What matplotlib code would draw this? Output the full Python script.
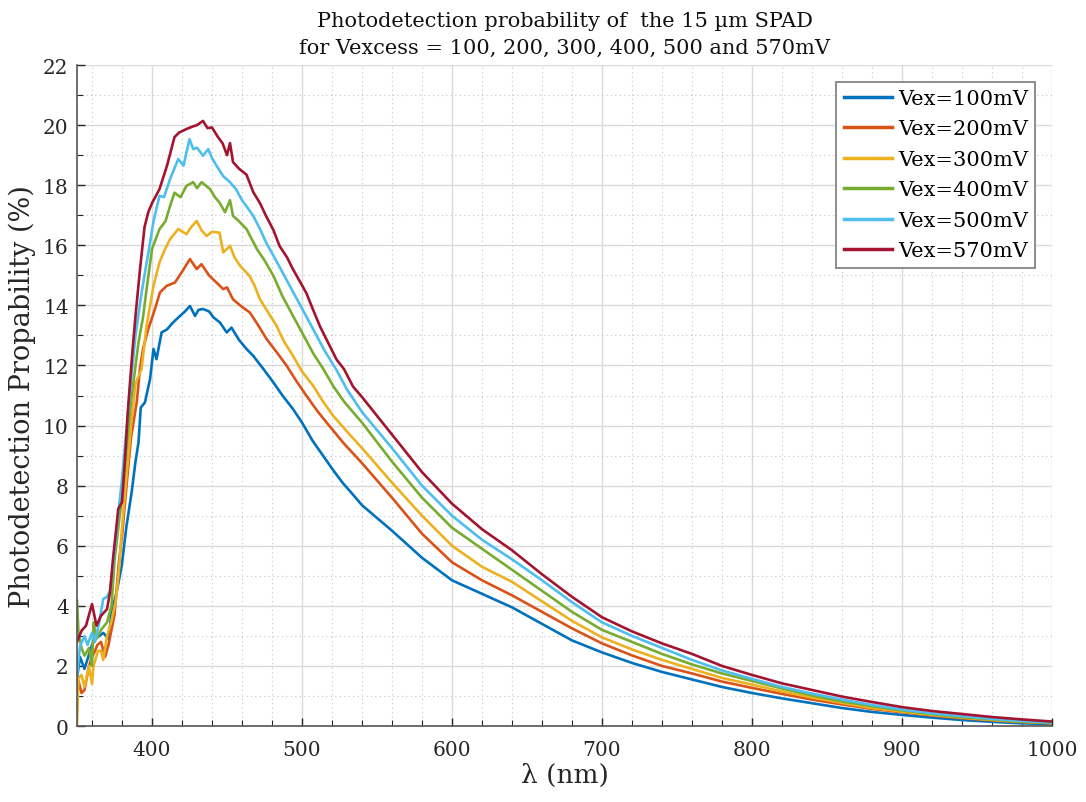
import matplotlib
matplotlib.use("Agg")
import matplotlib.pyplot as plt
from matplotlib.ticker import MultipleLocator

# ---------------- data ----------------
labels = ["Vex=100mV", "Vex=200mV", "Vex=300mV", "Vex=400mV", "Vex=500mV", "Vex=570mV"]
colors = ["#0072BD", "#D95319", "#EDB120", "#77AC30", "#4DBEEE", "#A2142F"]

tail_wl = [560, 580, 600, 620, 640, 660, 680, 700, 720, 740, 760, 780, 800,
           820, 840, 860, 880, 900, 920, 940, 960, 980, 1000]

wl_100 = [350, 352, 355, 358.7, 360, 362, 365, 367.5, 371, 373, 376.4, 379.8, 383, 386.4, 389, 391,
          392.5, 395.3, 398.7, 401, 403, 406.4, 410, 414, 418.7, 422, 425.3, 428.7, 431, 434, 438, 441,
          445.3, 449.8, 453, 458, 463, 467.5, 474, 481, 487, 494, 500, 507, 514, 521, 527, 534, 540]
pdp_100 = [1.6, 2.3, 1.9, 2.5, 2.7, 2.9, 3.0, 3.1, 2.9, 3.78, 4.45, 5.33, 6.66, 7.77, 8.8, 9.44,
           10.6, 10.77, 11.55, 12.55, 12.21, 13.1, 13.2, 13.43, 13.65, 13.8, 13.98, 13.65, 13.85, 13.88, 13.8, 13.6,
           13.43, 13.1, 13.26, 12.85, 12.55, 12.32, 11.9, 11.43, 11.0, 10.55, 10.1, 9.5, 9.0, 8.5, 8.1, 7.7, 7.35]
tail_100 = [6.5, 5.6, 4.85, 4.4, 3.95, 3.4, 2.85, 2.45, 2.1, 1.8, 1.55, 1.3, 1.1,
            0.92, 0.76, 0.6, 0.47, 0.37, 0.28, 0.2, 0.14, 0.09, 0.06]

wl_200 = [350, 351, 353, 355, 358, 360, 362, 363.6, 366, 368.7, 371, 375, 378, 380, 383, 386, 389.8,
          392, 394, 397.5, 402, 405.3, 409.8, 415.3, 419.8, 425.3, 429.8, 433, 438, 443, 447.5, 450,
          454, 460, 465.3, 470, 476.4, 483, 489.8, 496, 503, 510, 516.4, 528, 540]
pdp_200 = [0.8, 1.5, 1.1, 1.2, 2.0, 2.3, 2.5, 2.7, 2.8, 2.3, 2.7, 3.7, 5.5, 6.3, 8.0, 9.6, 10.77,
           11.9, 12.55, 13.21, 13.88, 14.43, 14.65, 14.76, 15.1, 15.54, 15.21, 15.37, 15.0, 14.76, 14.54, 14.6,
           14.2, 13.95, 13.76, 13.4, 12.88, 12.45, 11.99, 11.5, 10.99, 10.5, 10.1, 9.4, 8.75]
tail_200 = [7.6, 6.4, 5.45, 4.85, 4.35, 3.8, 3.25, 2.75, 2.35, 2.0, 1.75, 1.48, 1.27,
            1.07, 0.88, 0.72, 0.57, 0.46, 0.35, 0.26, 0.19, 0.13, 0.09]

wl_300 = [350, 351, 353, 355, 358, 360, 361, 364, 366, 367.5, 370, 373, 376, 378, 380, 383, 386, 389,
          393, 396.4, 401, 405, 408, 412, 417.5, 423, 426, 429.8, 433, 436.4, 440, 445, 447.5, 452, 455,
          458.7, 465, 468, 472, 477, 483, 488, 494, 500, 507.5, 514, 520.7, 530, 540]
pdp_300 = [0.0, 1.6, 1.7, 1.3, 2.0, 1.4, 2.0, 2.5, 2.5, 2.2, 3.0, 3.5, 4.2, 5.2, 6.6, 8.3, 10.0, 11.4,
           11.88, 13.32, 14.65, 15.43, 15.8, 16.2, 16.54, 16.37, 16.6, 16.81, 16.5, 16.31, 16.45, 16.42, 15.76, 15.98, 15.6,
           15.32, 14.98, 14.7, 14.2, 13.8, 13.32, 12.8, 12.32, 11.8, 11.32, 10.8, 10.33, 9.8, 9.25]
tail_300 = [8.1, 7.0, 6.0, 5.3, 4.8, 4.15, 3.5, 2.95, 2.55, 2.2, 1.9, 1.6, 1.38,
            1.15, 0.95, 0.77, 0.6, 0.48, 0.37, 0.28, 0.2, 0.14, 0.1]

wl_400 = [350, 351, 353, 355, 358, 360, 361, 363, 366, 370, 373, 375, 378, 380, 383, 386, 391, 394,
          396.4, 400, 405, 409, 412, 415, 419, 423, 427.5, 430, 433, 438.7, 442, 445, 448.7, 452, 454,
          458, 463, 470, 475, 481, 487, 494, 500, 507.5, 514, 521, 528, 536, 540]
pdp_400 = [4.17, 3.1, 2.6, 2.34, 2.6, 2.0, 3.45, 2.9, 3.2, 3.45, 4.0, 5.5, 6.8, 7.6, 9.2, 10.8, 12.77, 13.6,
           14.54, 15.87, 16.54, 16.8, 17.3, 17.75, 17.6, 17.98, 18.1, 17.9, 18.1, 17.87, 17.6, 17.42, 17.1, 17.5, 16.98,
           16.8, 16.54, 15.87, 15.5, 14.98, 14.3, 13.65, 13.1, 12.4, 11.9, 11.3, 10.8, 10.33, 10.1]
tail_400 = [8.8, 7.6, 6.6, 5.9, 5.2, 4.5, 3.8, 3.2, 2.8, 2.4, 2.05, 1.75, 1.5,
            1.25, 1.02, 0.82, 0.66, 0.52, 0.4, 0.3, 0.22, 0.15, 0.1]

wl_500 = [350, 352, 355, 357, 360, 362, 365, 367.5, 370, 372, 375, 378, 380, 383, 386, 389, 393, 396,
          398, 401, 405, 408, 412, 417.5, 421, 425, 427.5, 430, 434, 437.5, 440, 443, 447.5, 452, 456,
          460, 463, 467.5, 472, 476, 481, 487, 494, 500, 507.5, 515, 523, 530, 540]
pdp_500 = [1.7, 2.65, 3.0, 2.7, 3.1, 2.8, 3.5, 4.23, 4.3, 4.5, 5.8, 7.3, 8.2, 9.9, 11.5, 13.0, 14.4, 15.3,
           15.87, 16.8, 17.65, 17.6, 18.2, 18.87, 18.65, 19.53, 19.2, 19.25, 18.98, 19.2, 18.9, 18.65, 18.3, 18.1, 17.87,
           17.5, 17.3, 16.98, 16.54, 16.1, 15.65, 15.1, 14.45, 13.9, 13.2, 12.5, 11.85, 11.2, 10.45]
tail_500 = [9.25, 8.0, 7.0, 6.2, 5.55, 4.85, 4.12, 3.45, 3.0, 2.6, 2.2, 1.85, 1.57,
            1.3, 1.08, 0.88, 0.7, 0.55, 0.42, 0.33, 0.24, 0.17, 0.12]

wl_570 = [350, 353, 356, 360, 363, 366, 370, 372, 374, 377.5, 380, 382, 384, 387, 389, 392, 395, 397.5,
          400, 405, 410, 415, 418, 423, 427, 430, 434, 437, 440, 444, 447, 450, 452, 454, 458, 463,
          467.5, 472, 476, 481, 485, 490, 494, 499, 503, 507, 512, 518, 523, 528, 534, 540]
pdp_570 = [2.8, 3.17, 3.34, 4.06, 3.34, 3.67, 3.89, 4.45, 5.56, 7.22, 7.45, 8.88, 10.55, 12.5, 13.65, 15.2, 16.6, 17.1,
           17.4, 17.87, 18.65, 19.6, 19.75, 19.87, 19.95, 20.0, 20.14, 19.9, 19.92, 19.6, 19.4, 19.0, 19.4, 18.77, 18.55, 18.35,
           17.77, 17.4, 16.98, 16.5, 15.98, 15.6, 15.2, 14.76, 14.4, 13.9, 13.3, 12.7, 12.2, 11.88, 11.3, 10.95]
tail_570 = [9.7, 8.45, 7.4, 6.55, 5.85, 5.05, 4.3, 3.62, 3.15, 2.75, 2.4, 2.0, 1.7,
            1.42, 1.2, 0.98, 0.8, 0.63, 0.5, 0.4, 0.3, 0.22, 0.15]

series = [(wl_100, pdp_100, tail_100), (wl_200, pdp_200, tail_200), (wl_300, pdp_300, tail_300),
          (wl_400, pdp_400, tail_400), (wl_500, pdp_500, tail_500), (wl_570, pdp_570, tail_570)]

title_text = "Photodetection probability of  the 15 \u00b5m SPAD\nfor Vexcess = 100, 200, 300, 400, 500 and 570mV"

# ---------------- figure ----------------
plt.rcParams['font.family'] = ['DejaVu Serif']
fig = plt.figure(figsize=(10.86, 8.03), dpi=100)
ax = fig.add_axes([0.0709, 0.0946, 0.8978, 0.8232])

for (wl, pdp, tail), lab, col in zip(series, labels, colors):
    ax.plot(list(wl) + tail_wl, list(pdp) + tail, color=col, lw=1.9, label=lab)

ax.set_xlim(350, 1000)
ax.set_ylim(0, 22)
ax.xaxis.set_major_locator(MultipleLocator(100))
ax.xaxis.set_minor_locator(MultipleLocator(20))
ax.yaxis.set_major_locator(MultipleLocator(2))
ax.yaxis.set_minor_locator(MultipleLocator(1))

ax.grid(which='major', color='#DADADA', lw=1.0, ls='-')
ax.grid(which='minor', color='#C4C4C4', lw=0.8, ls=(0, (1, 3)))
ax.set_axisbelow(True)

for s in ['top', 'right']:
    ax.spines[s].set_visible(False)
for s in ['left', 'bottom']:
    ax.spines[s].set_color('#555555')
    ax.spines[s].set_linewidth(1.2)

ax.tick_params(which='both', direction='in', colors='#262626', labelsize=14.5)
ax.tick_params(which='major', length=6, width=1.0)
ax.tick_params(which='minor', length=4, width=0.8)
ax.tick_params(axis='x', pad=10)
ax.tick_params(axis='y', pad=6)
ax.set_xticks([400, 500, 600, 700, 800, 900, 1000])

ax.set_xlabel("\u03bb (nm)", fontsize=19, color='#262626', labelpad=2)
ax.set_ylabel("Photodetection Propability (%)", fontsize=19.5, color='#262626', labelpad=5)
ax.set_title(title_text, fontsize=15, color='#111111', pad=9, linespacing=1.5)

leg = ax.legend(loc='upper right', fontsize=15, frameon=True, fancybox=False,
                edgecolor='#7a7a7a', framealpha=1, handlelength=2.3, handletextpad=0.3,
                labelspacing=0.55, borderpad=0.35, borderaxespad=0.8)
leg.get_frame().set_linewidth(1.2)
for line in leg.get_lines():
    line.set_linewidth(2.5)

fig.savefig("out.png", dpi=100)
